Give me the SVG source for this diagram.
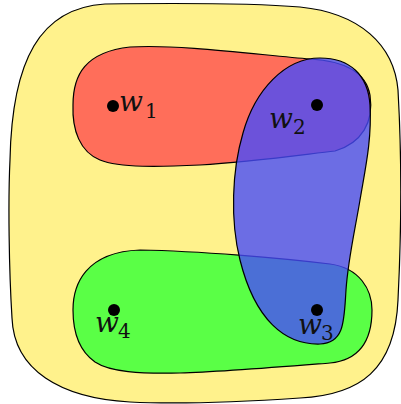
<svg xmlns="http://www.w3.org/2000/svg" width="401" height="404" viewBox="0 0 401 404">
<style>
.set{stroke:#000;stroke-width:1.2}
.dot{fill:#000}
.w{font-family:"DejaVu Serif",serif;font-style:italic;font-size:28px;fill:#111}
.s{font-family:"DejaVu Serif",serif;font-size:20px;fill:#111}
</style>
<rect width="401" height="404" fill="#fff"/>
<g id="universe">
<path class="set" fill="#FFF28C" d="M 105,4 C 180,3 250,3 300,7 C 360,13 394,45 398,90 C 402,160 401,240 398,300 C 395,370 360,395 300,398 C 240,402 170,404 130,402 C 60,398 14,370 12,318 C 9,270 8,200 10,160 C 12,60 40,8 105,4 Z"/>
</g>
<g id="setA">
<path class="set" fill="#FF6E5A" d="M 130,47 C 180,44 260,55 310,59 C 345,61 366,72 370,95 C 374,122 362,143 335,151 C 300,155 250,162 200,165 C 160,167 120,168 100,160 C 80,152 72,130 73,105 C 73,75 85,52 130,47 Z"/>
</g>
<g id="setD">
<path class="set" fill="#5AFF46" d="M 140,250 C 200,251 280,258 330,264 C 360,268 372,290 372,310 C 372,340 360,360 330,363 C 280,367 220,372 180,373 C 140,374 110,372 95,362 C 78,350 73,330 73,310 C 73,285 85,252 140,250 Z"/>
</g>
<g id="setB">
<path class="set" fill="#474BFA" fill-opacity="0.8" d="M 320,58 C 350,58 368,75 370,105 C 372,140 365,170 360,200 C 355,230 348,260 346,290 C 344,320 345,343 320,344 C 285,345 255,320 240,260 C 230,220 232,170 243,133 C 255,90 285,58 320,58 Z"/>
</g>
<g id="w1">
<circle class="dot" cx="113" cy="106" r="6"/>
<text class="w" x="119" y="111">w</text><text class="s" x="145" y="118">1</text>
</g>
<g id="w2">
<circle class="dot" cx="317" cy="105" r="6"/>
<text class="w" x="269" y="128">w</text><text class="s" x="293" y="134">2</text>
</g>
<g id="w3">
<circle class="dot" cx="317" cy="310" r="6"/>
<text class="w" x="298" y="334">w</text><text class="s" x="321" y="340">3</text>
</g>
<g id="w4">
<circle class="dot" cx="114" cy="310" r="6"/>
<text class="w" x="95" y="332">w</text><text class="s" x="118" y="338">4</text>
</g>
<g id="connectors"></g>
</svg>
